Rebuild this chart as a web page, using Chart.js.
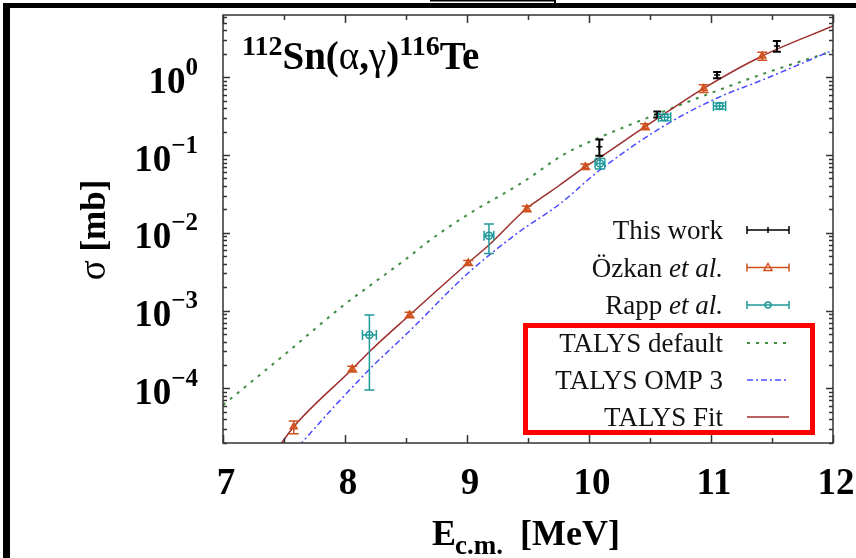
<!DOCTYPE html>
<html>
<head>
<meta charset="utf-8">
<script src="https://cdn.jsdelivr.net/npm/chart.js@4"></script>
<style>
  html, body { margin: 0; padding: 0; background: #fff; }
  canvas { display: block; }
</style>
</head>
<body>
<canvas id="myChart" width="856" height="558"></canvas>
<script>
// measured cross sections (E in MeV, sigma in mb)
const workE = [10.085, 10.56, 11.05, 11.54];
const workSigma = [0.128, 0.334, 1.07, 2.53];
const workErr = [0.03, 0.03, 0.10, 0.40];

const ozkanE = [7.58, 8.06, 8.53, 9.01, 9.49, 9.97, 10.46, 10.94, 11.42];
const ozkanSigma = [3.2e-5, 1.77e-4, 8.8e-4, 4.1e-3, 0.0204, 0.071, 0.232, 0.72, 1.88];
const ozkanErr = [0.6e-5, 1.5e-5, 0.7e-4, 0.3e-3, 0.0018, 0.006, 0.02, 0.08, 0.22];

const rappE = [8.20, 9.18, 10.09, 10.62, 11.07];
const rappSigma = [4.85e-4, 9.2e-3, 0.078, 0.306, 0.428];
const rappErr = [3.9e-4, 3.8e-3, 0.012, 0.03, 0.04];
const rappEErr = [0.057, 0.04, 0.04, 0.05, 0.05];

// TALYS calculations
const defaultE = [7.0, 7.5, 8.0, 8.2, 8.5, 8.7, 9.0, 9.46, 9.79, 10.0, 10.6, 11.0, 11.4, 12.0];
const defaultSigma = [6.1e-5, 2.68e-4, 1.21e-3, 2.07e-3, 4.6e-3, 8.1e-3, 0.0169, 0.0451, 0.101, 0.147, 0.358, 0.628, 1.07, 2.18];

const omp3E = [7.55, 7.645, 8.2, 8.53, 9.01, 9.46, 9.62, 9.75, 10.09, 10.6, 11.05, 11.4, 12.0];
const omp3Sigma = [1.31e-5, 1.98e-5, 1.75e-4, 5.46e-4, 3.04e-3, 0.01119, 0.01644, 0.0228, 0.0643, 0.2296, 0.542, 0.895, 2.24];

const fitE = [7.4, 7.58, 8.06, 8.2, 8.53, 9.01, 9.18, 9.49, 9.62, 9.75, 9.97, 10.09, 10.46, 10.94, 11.42, 12.0];
const fitSigma = [1.31e-5, 3.21e-5, 1.77e-4, 2.96e-4, 8.77e-4, 4.12e-3, 6.97e-3, 0.0207, 0.0289, 0.0400, 0.0708, 0.0933, 0.2316, 0.722, 1.88, 4.57];

// axes
const xTicks = [7, 7.5, 8, 8.5, 9, 9.5, 10, 10.5, 11, 11.5, 12];
const xLabels = ['7', '8', '9', '10', '11', '12'];
const yDecades = [0, -1, -2, -3, -4];

const serif = '"Liberation Serif", "Times New Roman", serif';
const cWork = '#000000';
const cOzkan = '#d0521e';
const cRapp = '#1f9a9a';
const cDefault = '#3f8d3f';
const cOmp3 = '#4b4bff';
const cFit = '#9c2e2c';

function pts(xs, ys) {
  return xs.map((x, i) => ({ x: x, y: ys[i] }));
}

// draws a run of text pieces with their own fonts and baseline shifts
function drawParts(ctx, parts, x, y) {
  let cx = x;
  for (const p of parts) {
    ctx.font = p.font;
    ctx.fillText(p.t, cx, y + (p.dy || 0));
    cx += ctx.measureText(p.t).width;
  }
  return cx;
}
function partsWidth(ctx, parts) {
  let w = 0;
  for (const p of parts) { ctx.font = p.font; w += ctx.measureText(p.t).width; }
  return w;
}

const errorBars = {
  id: 'errorBars',
  afterDatasetsDraw(chart) {
    const { ctx, chartArea: a, scales: { x, y } } = chart;
    ctx.save();
    ctx.beginPath();
    ctx.rect(a.left, a.top, a.right - a.left, a.bottom - a.top);
    ctx.clip();
    chart.data.datasets.forEach(ds => {
      if (!ds.errY) return;
      ctx.strokeStyle = ds.borderColor;
      ctx.lineWidth = ds.errWidth || 1.5;
      ds.data.forEach((p, i) => {
        const px = x.getPixelForValue(p.x);
        const py = y.getPixelForValue(p.y);
        const top = y.getPixelForValue(p.y + ds.errY[i]);
        const bot = y.getPixelForValue(Math.max(p.y - ds.errY[i], 1e-9));
        const c = ds.capSize || 4;
        ctx.beginPath();
        ctx.moveTo(px, top); ctx.lineTo(px, bot);
        ctx.moveTo(px - c, top); ctx.lineTo(px + c, top);
        ctx.moveTo(px - c, bot); ctx.lineTo(px + c, bot);
        if (ds.errX) {
          const l = x.getPixelForValue(p.x - ds.errX[i]);
          const r = x.getPixelForValue(p.x + ds.errX[i]);
          ctx.moveTo(l, py); ctx.lineTo(r, py);
          ctx.moveTo(l, py - c); ctx.lineTo(l, py + c);
          ctx.moveTo(r, py - c); ctx.lineTo(r, py + c);
        }
        ctx.stroke();
      });
    });
    ctx.restore();
  }
};

const frame = {
  id: 'frame',
  afterDraw(chart) {
    const { ctx, chartArea: a, scales: { x, y } } = chart;
    ctx.save();

    // plot box
    ctx.strokeStyle = '#333';
    ctx.lineWidth = 1.5;
    ctx.strokeRect(a.left, a.top, a.right - a.left, a.bottom - a.top);

    // x ticks, inward on bottom and top
    ctx.beginPath();
    xTicks.forEach(v => {
      const px = Math.round(x.getPixelForValue(v)) + 0.5;
      const len = Number.isInteger(v) ? 8 : 5;
      ctx.moveTo(px, a.bottom); ctx.lineTo(px, a.bottom - len);
      ctx.moveTo(px, a.top); ctx.lineTo(px, a.top + len);
    });
    // y ticks: decades and 2..9 minors, inward on left and right
    for (let d = -5; d <= 0; d++) {
      for (let m = 1; m <= 9; m++) {
        const v = m * Math.pow(10, d);
        if (v < y.min || v > y.max) continue;
        const py = Math.round(y.getPixelForValue(v)) + 0.5;
        const len = m === 1 ? 7 : 4;
        ctx.moveTo(a.left, py); ctx.lineTo(a.left + len, py);
        ctx.moveTo(a.right, py); ctx.lineTo(a.right - len, py);
      }
    }
    ctx.stroke();

    ctx.fillStyle = '#000';
    ctx.textBaseline = 'alphabetic';

    // y tick labels 10^n
    ctx.textAlign = 'left';
    yDecades.forEach(e => {
      const py = y.getPixelForValue(Math.pow(10, e));
      const ex = e === 0 ? '0' : '\u2212' + (-e);
      ctx.font = 'bold 25px ' + serif;
      const ew = ctx.measureText(ex).width;
      ctx.fillText(ex, 198 - ew, py - 2.5);
      ctx.font = 'bold 37px ' + serif;
      const bw = ctx.measureText('10').width;
      ctx.fillText('10', 198 - ew - bw, py + 15.5);
    });

    // x tick labels
    ctx.textAlign = 'center';
    ctx.font = 'bold 37px ' + serif;
    xLabels.forEach(t => {
      ctx.fillText(t, x.getPixelForValue(Number(t)) + 3, 494);
    });

    // x axis title
    ctx.textAlign = 'left';
    ctx.font = 'bold 36px ' + serif;
    ctx.fillText('E', 432, 545);
    ctx.font = 'bold 27px ' + serif;
    ctx.fillText('c.m.', 455, 554);
    ctx.font = 'bold 36px ' + serif;
    ctx.fillText('[MeV]', 520, 545);

    // y axis title
    const yParts = [
      { t: '\u03c3', font: '37px ' + serif },
      { t: ' [mb]', font: 'bold 35px ' + serif }
    ];
    ctx.save();
    ctx.translate(105, 230);
    ctx.rotate(-Math.PI / 2);
    drawParts(ctx, yParts, -partsWidth(ctx, yParts) / 2, 0);
    ctx.restore();

    // reaction label
    drawParts(ctx, [
      { t: '112', font: 'bold 28px ' + serif, dy: -14 },
      { t: 'Sn(', font: 'bold 39px ' + serif },
      { t: '\u03b1', font: '39px ' + serif },
      { t: ',', font: 'bold 39px ' + serif },
      { t: '\u03b3', font: '39px ' + serif },
      { t: ')', font: 'bold 39px ' + serif },
      { t: '116', font: 'bold 28px ' + serif, dy: -14 },
      { t: 'Te', font: 'bold 39px ' + serif }
    ], 242, 69);

    // key
    const reg = '27px ' + serif;
    const ita = 'italic 27px ' + serif;
    const rows = [
      { parts: [{ t: 'This work', font: reg }], kind: 'err', color: cWork, mark: 'tick' },
      { parts: [{ t: '\u00d6zkan ', font: reg }, { t: 'et al.', font: ita }], kind: 'err', color: cOzkan, mark: 'triangle' },
      { parts: [{ t: 'Rapp ', font: reg }, { t: 'et al.', font: ita }], kind: 'err', color: cRapp, mark: 'circle' },
      { parts: [{ t: 'TALYS default', font: reg }], kind: 'line', color: cDefault, dash: [3, 6], width: 2 },
      { parts: [{ t: 'TALYS OMP 3', font: reg }], kind: 'line', color: cOmp3, dash: [6, 3, 2, 3], width: 1.5 },
      { parts: [{ t: 'TALYS Fit', font: reg }], kind: 'line', color: cFit, dash: [], width: 1.5 }
    ];
    const rowY = [230, 267.5, 305, 343, 380, 417];
    const sx0 = 747, sx1 = 789;
    rows.forEach((r, i) => {
      const cy = rowY[i];
      ctx.fillStyle = '#111';
      drawParts(ctx, r.parts, 723 - partsWidth(ctx, r.parts), cy + 9);
      ctx.strokeStyle = r.color;
      ctx.beginPath();
      if (r.kind === 'line') {
        ctx.lineWidth = r.width;
        ctx.setLineDash(r.dash);
        ctx.moveTo(sx0, cy); ctx.lineTo(sx1, cy);
        ctx.stroke();
        ctx.setLineDash([]);
      } else {
        ctx.lineWidth = 1.5;
        ctx.moveTo(sx0, cy); ctx.lineTo(sx1, cy);
        ctx.moveTo(sx0, cy - 4); ctx.lineTo(sx0, cy + 4);
        ctx.moveTo(sx1, cy - 4); ctx.lineTo(sx1, cy + 4);
        const mx = (sx0 + sx1) / 2;
        if (r.mark === 'tick') {
          ctx.moveTo(mx, cy - 3); ctx.lineTo(mx, cy + 3);
        }
        ctx.stroke();
        if (r.mark === 'triangle') {
          ctx.beginPath();
          ctx.moveTo(mx, cy - 4); ctx.lineTo(mx + 4, cy + 3); ctx.lineTo(mx - 4, cy + 3);
          ctx.closePath();
          ctx.stroke();
        } else if (r.mark === 'circle') {
          ctx.beginPath();
          ctx.arc(mx, cy, 3, 0, Math.PI * 2);
          ctx.stroke();
        }
      }
    });

    // highlight around the TALYS entries
    ctx.strokeStyle = '#ff0000';
    ctx.lineWidth = 5;
    ctx.strokeRect(525.5, 325.5, 287, 107);

    // outer border of the figure
    ctx.fillStyle = '#000';
    ctx.fillRect(3, 3, 853, 5);
    ctx.fillRect(3, 3, 7, 555);
    ctx.fillRect(430, 0, 126, 1.5);
    ctx.fillRect(554, 0, 2, 4);

    ctx.restore();
  }
};

const ctx = document.getElementById('myChart');

new Chart(ctx, {
  type: 'scatter',
  data: {
    datasets: [
      {
        label: 'This work',
        data: pts(workE, workSigma),
        errY: workErr,
        errWidth: 2,
        capSize: 4,
        borderColor: cWork,
        backgroundColor: cWork,
        pointStyle: 'cross',
        pointRadius: 3,
        borderWidth: 1.5
      },
      {
        label: 'Özkan et al.',
        data: pts(ozkanE, ozkanSigma),
        errY: ozkanErr,
        capSize: 5,
        borderColor: cOzkan,
        backgroundColor: 'rgba(208,82,30,0.55)',
        pointStyle: 'triangle',
        pointRadius: 4,
        borderWidth: 1.5
      },
      {
        label: 'Rapp et al.',
        data: pts(rappE, rappSigma),
        errY: rappErr,
        errX: rappEErr,
        capSize: 5,
        borderColor: cRapp,
        backgroundColor: 'rgba(255,255,255,0)',
        pointStyle: 'circle',
        pointRadius: 3.5,
        borderWidth: 1.5
      },
      {
        label: 'TALYS Fit',
        data: pts(fitE, fitSigma),
        showLine: true,
        pointRadius: 0,
        borderColor: cFit,
        borderWidth: 1.5,
        cubicInterpolationMode: 'monotone'
      },
      {
        label: 'TALYS OMP 3',
        data: pts(omp3E, omp3Sigma),
        showLine: true,
        pointRadius: 0,
        borderColor: cOmp3,
        borderWidth: 1.5,
        borderDash: [6, 3, 2, 3],
        cubicInterpolationMode: 'monotone'
      },
      {
        label: 'TALYS default',
        data: pts(defaultE, defaultSigma),
        showLine: true,
        pointRadius: 0,
        borderColor: cDefault,
        borderWidth: 2,
        borderDash: [3, 6],
        cubicInterpolationMode: 'monotone'
      }
    ]
  },
  options: {
    responsive: false,
    animation: false,
    devicePixelRatio: 1,
    layout: { padding: { left: 223, right: 23, top: 15, bottom: 115 } },
    plugins: { legend: { display: false }, tooltip: { enabled: false } },
    scales: {
      x: { type: 'linear', min: 7, max: 12, display: false },
      y: { type: 'logarithmic', min: 1.98e-5, max: 6.33, display: false }
    }
  },
  plugins: [errorBars, frame]
});
</script>
</body>
</html>
